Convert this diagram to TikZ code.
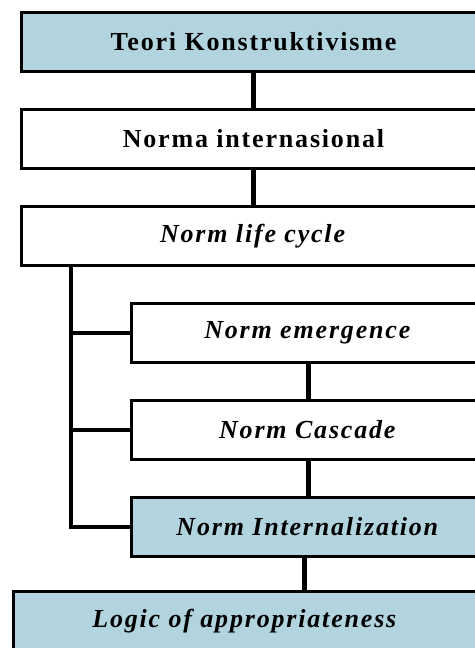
\documentclass[tikz,border=0pt]{standalone}
\usepackage{fontspec}
\setmainfont{Liberation Serif}[LetterSpace=7]
\usepackage{xcolor}
\usetikzlibrary{positioning}
\definecolor{boxblue}{RGB}{177,212,223}

\begin{document}
\begin{tikzpicture}[node distance=35pt]
        % --- estilos ---
        \tikzstyle{process} = [
            rectangle,
            minimum width=464pt,
            minimum height=59pt,
            align=center,
            draw=black,
            line width=3pt,
            fill=white,
            font=\fontsize{26}{31}\selectfont\bfseries
        ]
        \tikzstyle{subprocess} = [process, minimum width=354.5pt]
        \tikzstyle{shaded} = [fill=boxblue]
        \tikzstyle{link} = [line width=4.5pt]

        \useasboundingbox (0,0) rectangle (474pt,-648pt);

        % --- nodes ---
        \node (teori) [process, shaded] at (253.5pt,-42pt) {Teori Konstruktivisme};
        \node (norma) [process, below=of teori] {Norma internasional};
        \node (life) [process, below=of norma] {\textit{Norm life cycle}};
        \node (emerg) [subprocess, below=of life.south east, anchor=north east] {\textit{Norm emergence}};
        \node (cascade) [subprocess, below=of emerg] {\textit{Norm Cascade}};
        \node (intern) [subprocess, shaded, below=of cascade] {\textit{Norm Internalization}};
        \node (logic) [process, shaded, below=32pt of intern, xshift=-63pt] {\textit{Logic of appropriateness}};

        % --- connections ---
        \draw [link] (teori) -- (norma);
        \draw [link] (norma) -- (life);
        \coordinate (trunk) at ([xshift=51pt]life.south west);
        \draw [link] (trunk) |- (emerg.west);
        \draw [link] (trunk) |- (cascade.west);
        \draw [link] (trunk) |- (intern.west);
        \draw [link] (emerg) -- (cascade);
        \draw [link] (cascade) -- (intern);
        \draw [link] ([xshift=-4pt]intern.south) -- ([xshift=-4pt]intern.south |- logic.north);
\end{tikzpicture}
\end{document}
